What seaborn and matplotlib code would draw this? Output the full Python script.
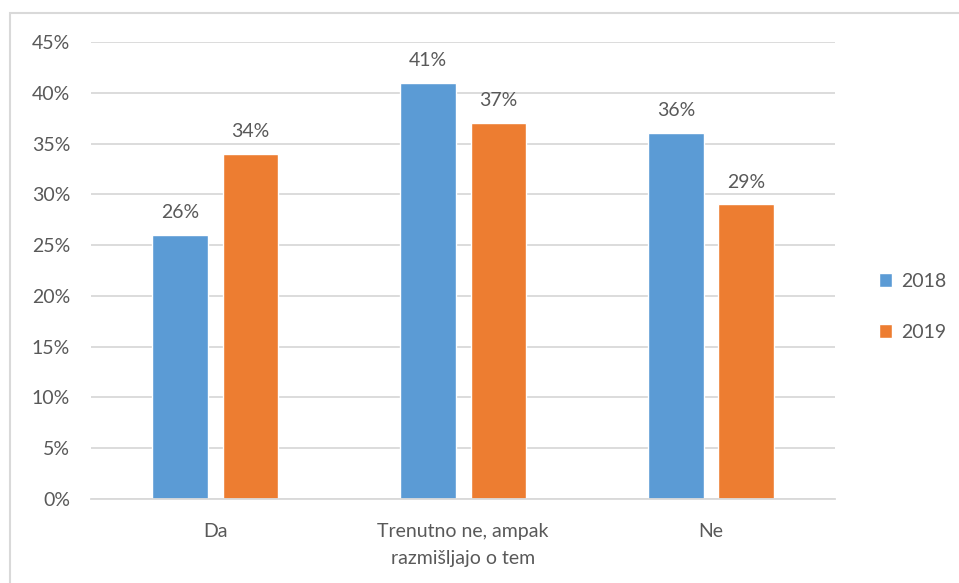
import matplotlib
matplotlib.use("Agg")
import matplotlib.pyplot as plt
import seaborn as sns
import pandas as pd
from matplotlib.patches import Rectangle
from matplotlib.ticker import PercentFormatter

categories = ["Da", "Trenutno ne, ampak\nrazmišljajo o tem", "Ne"]
years = ["2018", "2019"]
values_2018 = [26, 41, 36]
values_2019 = [34, 37, 29]
colors = ["#5B9BD5", "#ED7D31"]
text_color = "#595959"

df = pd.DataFrame({
    "kategorija": categories * 2,
    "leto": [years[0]] * 3 + [years[1]] * 3,
    "delez": values_2018 + values_2019,
})

sns.set_theme(style="white")
plt.rcParams["font.family"] = ["Lato", "DejaVu Sans"]
fs = 14

fig = plt.figure(figsize=(9.59, 5.83), dpi=100)
ax = fig.add_axes([0.0949, 0.1441, 0.7758, 0.7839])

sns.barplot(data=df, x="kategorija", y="delez", hue="leto", order=categories,
            hue_order=years, palette=colors, width=0.565, gap=0.214,
            saturation=1, ax=ax, legend=True)

ax.set_ylim(0, 45)
ax.set_xlim(-0.5, 2.5)
ax.set_yticks(range(0, 46, 5))
ax.yaxis.set_major_formatter(PercentFormatter(decimals=0))
ax.grid(axis="y", color="#D9D9D9", linewidth=1.3)
ax.set_axisbelow(True)
for side in ["top", "right", "left"]:
    ax.spines[side].set_visible(False)
ax.spines["bottom"].set_color("#D9D9D9")
ax.spines["bottom"].set_linewidth(1.3)
ax.tick_params(axis="y", length=0, pad=15, labelsize=fs, labelcolor=text_color)
ax.tick_params(axis="x", length=0, pad=17, labelsize=fs, labelcolor=text_color)
ax.set_xlabel("")
ax.set_ylabel("")
for lbl in ax.get_xticklabels():
    lbl.set_linespacing(1.75)

for container in ax.containers:
    ax.bar_label(container, labels=[f"{v:.0f}%" for v in container.datavalues],
                 padding=10, fontsize=fs, color=text_color)

handles, labels = ax.get_legend_handles_labels()
ax.legend(handles, labels, loc="center left", bbox_to_anchor=(1.035, 0.42),
          frameon=False, fontsize=fs, labelcolor=text_color,
          handlelength=0.7, handleheight=0.7, handletextpad=0.45,
          labelspacing=1.75)

fig.patches.append(Rectangle((10 / 959, -0.05), 1.2, 1.05 - 13 / 583,
                             transform=fig.transFigure, fill=False,
                             edgecolor="#D9D9D9", linewidth=1.5))

fig.savefig("out.png", dpi=100)
